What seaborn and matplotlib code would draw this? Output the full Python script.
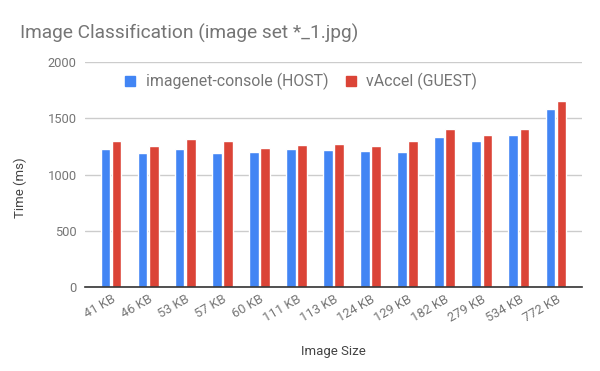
import matplotlib
matplotlib.use("Agg")
import matplotlib.pyplot as plt
import seaborn as sns
import pandas as pd
from matplotlib.lines import Line2D

# data
sizes = ["41 KB", "46 KB", "53 KB", "57 KB", "60 KB", "111 KB", "113 KB",
         "124 KB", "129 KB", "182 KB", "279 KB", "534 KB", "772 KB"]
host_ms = [1223, 1188, 1223, 1188, 1196, 1223, 1215, 1207, 1198, 1337, 1302, 1355, 1586]
guest_ms = [1295, 1250, 1312, 1295, 1232, 1258, 1268, 1257, 1302, 1408, 1355, 1408, 1657]
series = ["imagenet-console (HOST)", "vAccel (GUEST)"]
colors = ["#4285F4", "#DB4437"]
y_ticks = [0, 500, 1000, 1500, 2000]

sns.set_style("white")
plt.rcParams["font.family"] = ["Roboto", "DejaVu Sans"]

df = pd.DataFrame({
    "size": sizes * 2,
    "ms": host_ms + guest_ms,
    "series": [series[0]] * len(sizes) + [series[1]] * len(sizes),
})

fig = plt.figure(figsize=(6, 3.71), dpi=100)
ax = fig.add_axes([85 / 600, 1 - 287 / 371, 497 / 600, 225 / 371])

sns.barplot(data=df, x="size", y="ms", hue="series", palette=colors,
            width=0.6, gap=0.12, saturation=1, legend=False, ax=ax)

ax.set_ylim(0, 2000)
ax.set_xlim(-0.70, len(sizes) - 0.30)
ax.set_yticks(y_ticks)
ax.grid(axis="y", color="#cccccc", linewidth=1)
ax.set_axisbelow(True)
for side in ["top", "right", "left"]:
    ax.spines[side].set_visible(False)
ax.spines["bottom"].set_color("#333333")
ax.spines["bottom"].set_linewidth(1.2)
ax.spines["bottom"].set_zorder(5)

ax.tick_params(axis="both", length=0, labelsize=9.3, labelcolor="#757575")
ax.tick_params(axis="y", pad=6)
ax.tick_params(axis="x", pad=4)
plt.setp(ax.get_xticklabels(), rotation=30, ha="right", rotation_mode="anchor")

ax.set_xlabel("Image Size", fontsize=9.5, color="#444444")
ax.set_ylabel("Time (ms)", fontsize=9.5, color="#444444")
ax.xaxis.set_label_coords(0.50, -0.258)
ax.yaxis.set_label_coords(-0.117, 0.44)

fig.text(20 / 600, 1 - 33 / 371, "Image Classification (image set *_1.jpg)",
         fontsize=13.8, color="#757575", va="center", ha="left")

handles = [Line2D([], [], marker="s", linestyle="", markersize=7.5,
                  markerfacecolor=c, markeredgecolor=c) for c in colors]
ax.legend(handles, series, loc="center", bbox_to_anchor=(0.432, 0.912),
          ncol=2, frameon=False, fontsize=11.4, labelcolor="#757575",
          handletextpad=0.5, columnspacing=0.9, handlelength=1.0)

fig.savefig("out.png", dpi=100)
